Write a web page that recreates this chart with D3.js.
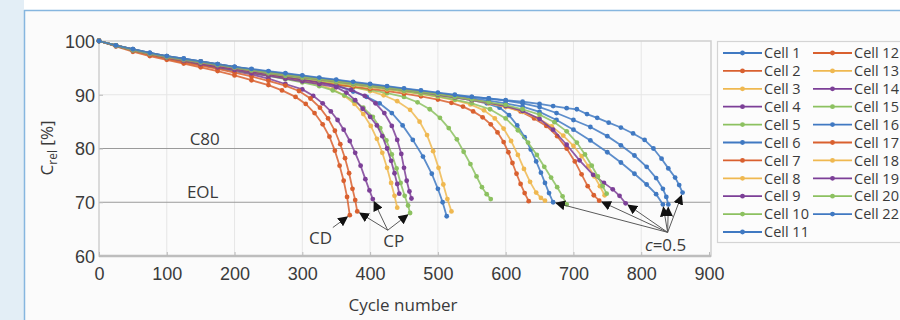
<!DOCTYPE html>
<html>
<head>
<meta charset="utf-8">
<script src="https://cdn.jsdelivr.net/npm/d3@7"></script>
<style>
  body { margin: 0; background: #fbfbfb; }
  svg { display: block; font-family: "Open Sans", "Noto Sans", sans-serif; }
</style>
</head>
<body>
<svg id="chart" width="900" height="320"></svg>
<script>
// capacity fade data: [cycle, C_rel %] per cell
const cell1 = [[0,100],[25,99.2],[50,98.4],[75,97.7],[100,97.1],[125,96.5],[150,95.9],[175,95.4],[200,94.9],[225,94.4],[250,93.9],[275,93.4],[300,92.9],[325,92.4],[350,91.7],[375,90.6],[395,89.6],[414,88.4],[432,86.6],[448,84.3],[463,81.6],[478,78.5],[491,75.3],[500,72.5],[507,70.0],[513,67.4]];
const cell2 = [[0,100],[25,99.0],[50,98.0],[75,97.2],[100,96.5],[125,95.8],[150,95.1],[175,94.4],[200,93.6],[225,92.7],[250,91.8],[270,90.8],[290,89.6],[305,88.3],[318,86.6],[330,84.5],[340,82.2],[348,79.6],[355,76.8],[361,74.0],[366,71.0],[370,67.6]];
const cell3 = [[0,100],[25,99.2],[50,98.4],[75,97.7],[100,97.0],[125,96.4],[150,95.9],[175,95.3],[200,94.8],[225,94.3],[250,93.8],[275,93.2],[300,92.6],[325,91.9],[345,91.0],[362,89.8],[377,88.3],[390,86.4],[401,84.2],[410,81.8],[418,79.2],[425,76.4],[431,73.6],[436,71.2],[440,69.0]];
const cell4 = [[0,100],[25,99.1],[50,98.3],[75,97.5],[100,96.8],[125,96.2],[150,95.6],[175,95.0],[200,94.4],[225,93.8],[250,93.0],[275,92.0],[300,91.0],[316,89.8],[330,88.4],[342,86.9],[352,85.3],[361,83.5],[370,81.4],[378,79.2],[386,76.8],[393,74.3],[399,72.2],[404,70.6]];
const cell5 = [[0,100],[25,99.1],[50,98.2],[75,97.5],[100,96.8],[125,96.2],[150,95.6],[175,95.0],[200,94.5],[225,94.0],[250,93.5],[275,92.9],[300,92.3],[325,91.6],[345,90.8],[362,89.9],[376,88.9],[390,87.6],[404,85.9],[415,83.8],[424,81.5],[432,78.9],[439,76.3],[445,73.6],[451,71.2],[456,69.4],[459,68.0]];
const cell6 = [[0,100],[25,99.2],[50,98.4],[75,97.7],[100,97.1],[125,96.6],[150,96.1],[175,95.6],[200,95.1],[225,94.6],[250,94.1],[275,93.6],[300,93.1],[325,92.7],[350,92.3],[375,91.9],[400,91.5],[425,91.1],[450,90.7],[475,90.3],[500,89.9],[525,89.5],[550,89.0],[572,88.4],[591,87.6],[605,86.2],[617,84.3],[628,82.1],[637,79.8],[645,77.6],[652,75.5],[658,73.6],[664,71.7],[670,70.0]];
const cell7 = [[0,100],[25,99.1],[50,98.2],[75,97.4],[100,96.7],[125,96.0],[150,95.4],[175,94.8],[200,94.1],[225,93.4],[250,92.6],[275,91.7],[295,90.7],[312,89.3],[326,87.6],[338,85.6],[348,83.3],[356,80.8],[363,78.2],[369,75.4],[374,72.5],[378,70.4],[381,68.3]];
const cell8 = [[0,100],[25,99.2],[50,98.4],[75,97.7],[100,97.1],[125,96.5],[150,96.0],[175,95.5],[200,95.0],[225,94.5],[250,94.0],[275,93.5],[300,93.0],[325,92.5],[350,92.0],[375,91.4],[400,90.7],[420,89.9],[440,88.8],[459,87.2],[473,85.0],[484,82.5],[493,79.5],[501,76.4],[508,73.3],[514,70.6],[520,68.3]];
const cell9 = [[0,100],[25,99.1],[50,98.3],[75,97.6],[100,96.9],[125,96.3],[150,95.7],[175,95.1],[200,94.6],[225,94.0],[250,93.5],[275,93.0],[300,92.5],[325,92.0],[350,91.4],[365,90.4],[378,89.0],[389,87.4],[400,85.9],[410,84.3],[418,82.3],[425,80.0],[431,77.7],[436,75.4],[440,73.4],[443,71.6]];
const cell10 = [[0,100],[25,99.1],[50,98.3],[75,97.6],[100,97.0],[125,96.4],[150,95.9],[175,95.4],[200,94.9],[225,94.4],[250,93.9],[275,93.4],[300,92.9],[325,92.4],[350,91.9],[375,91.4],[400,90.9],[425,90.3],[450,89.6],[470,88.6],[488,87.3],[503,85.7],[516,83.8],[528,81.7],[538,79.4],[548,77.1],[557,74.8],[565,72.8],[572,71.5],[578,70.6]];
const cell11 = [[0,100],[25,99.2],[50,98.5],[75,97.8],[100,97.2],[125,96.7],[150,96.2],[175,95.7],[200,95.2],[225,94.7],[250,94.2],[275,93.8],[300,93.4],[325,93.0],[350,92.6],[375,92.2],[400,91.8],[425,91.4],[450,91.0],[475,90.6],[500,90.1],[525,89.7],[550,89.3],[575,88.9],[600,88.4],[625,87.8],[650,86.8],[675,85.3],[700,83.5],[725,81.5],[750,79.3],[770,77.4],[790,75.3],[808,73.3],[822,71.5],[832,69.6]];
const cell12 = [[0,100],[25,99.1],[50,98.3],[75,97.6],[100,97.0],[125,96.4],[150,95.8],[175,95.3],[200,94.8],[225,94.3],[250,93.8],[275,93.3],[300,92.8],[325,92.3],[350,91.9],[375,91.5],[400,91.1],[425,90.7],[450,90.2],[475,89.7],[500,89.1],[520,88.5],[537,87.8],[552,86.9],[566,85.8],[578,84.5],[588,83.0],[597,81.2],[604,79.3],[610,77.3],[616,75.3],[622,73.4],[628,71.7],[634,70.2]];
const cell13 = [[0,100],[25,99.2],[50,98.4],[75,97.7],[100,97.1],[125,96.5],[150,96.0],[175,95.5],[200,95.0],[225,94.5],[250,94.0],[275,93.5],[300,93.0],[325,92.6],[350,92.2],[375,91.8],[400,91.4],[425,91.0],[450,90.6],[475,90.1],[500,89.6],[525,89.0],[548,88.2],[568,87.1],[584,85.6],[597,83.7],[608,81.4],[618,78.8],[627,76.2],[636,73.8],[645,71.8],[652,70.8],[658,70.3]];
const cell14 = [[0,100],[25,99.1],[50,98.3],[75,97.6],[100,97.0],[125,96.4],[150,95.8],[175,95.3],[200,94.8],[225,94.3],[250,93.8],[275,93.3],[300,92.8],[325,92.3],[350,91.7],[372,90.9],[392,89.8],[408,88.4],[421,86.6],[432,84.2],[440,81.6],[446,79.0],[450,76.4],[454,74.0],[458,72.0],[461,70.7]];
const cell15 = [[0,100],[25,99.1],[50,98.3],[75,97.6],[100,97.0],[125,96.5],[150,96.0],[175,95.5],[200,95.0],[225,94.5],[250,94.0],[275,93.5],[300,93.1],[325,92.7],[350,92.3],[375,91.9],[400,91.5],[425,91.1],[450,90.7],[475,90.2],[500,89.7],[525,89.1],[550,88.4],[577,87.3],[600,85.6],[618,83.4],[633,81.1],[646,78.8],[657,76.6],[667,74.6],[676,72.8],[684,71.1],[690,69.6]];
const cell16 = [[0,100],[25,99.2],[50,98.5],[75,97.8],[100,97.2],[125,96.7],[150,96.2],[175,95.7],[200,95.2],[225,94.7],[250,94.3],[275,93.9],[300,93.5],[325,93.1],[350,92.7],[375,92.3],[400,91.9],[425,91.5],[450,91.1],[475,90.7],[500,90.3],[525,89.9],[550,89.6],[575,89.3],[600,88.9],[625,88.4],[650,87.7],[675,86.6],[700,85.3],[725,84.0],[750,82.3],[770,80.6],[790,78.7],[808,76.6],[822,74.5],[832,72.5],[837,71.0],[840,69.6]];
const cell17 = [[0,100],[25,99.2],[50,98.4],[75,97.7],[100,97.1],[125,96.6],[150,96.1],[175,95.6],[200,95.1],[225,94.6],[250,94.1],[275,93.7],[300,93.3],[325,92.9],[350,92.5],[375,92.1],[400,91.7],[425,91.3],[450,90.9],[475,90.5],[500,90.1],[525,89.6],[550,89.1],[575,88.5],[600,87.8],[622,86.9],[642,85.6],[660,84.2],[676,82.3],[690,80.0],[702,77.6],[712,75.2],[721,73.0],[730,71.3],[738,70.3]];
const cell18 = [[0,100],[25,99.2],[50,98.4],[75,97.7],[100,97.1],[125,96.6],[150,96.1],[175,95.6],[200,95.1],[225,94.6],[250,94.1],[275,93.7],[300,93.3],[325,92.9],[350,92.5],[375,92.1],[400,91.7],[425,91.3],[450,90.9],[475,90.5],[500,90.0],[525,89.5],[550,89.0],[575,88.4],[600,87.7],[625,86.8],[648,85.6],[668,84.1],[685,82.4],[700,80.5],[712,78.6],[722,76.7],[731,74.8],[739,73.0],[746,71.3]];
const cell19 = [[0,100],[25,99.2],[50,98.4],[75,97.7],[100,97.1],[125,96.6],[150,96.1],[175,95.6],[200,95.1],[225,94.6],[250,94.1],[275,93.7],[300,93.3],[325,92.9],[350,92.5],[375,92.1],[400,91.7],[425,91.3],[450,90.9],[475,90.5],[500,90.0],[525,89.5],[550,89.0],[575,88.5],[600,87.9],[625,87.0],[650,85.5],[670,83.5],[690,80.7],[709,77.8],[729,75.1],[745,73.6],[758,72.4],[768,71.2],[777,69.8]];
const cell20 = [[0,100],[25,99.2],[50,98.4],[75,97.7],[100,97.1],[125,96.6],[150,96.1],[175,95.6],[200,95.1],[225,94.6],[250,94.1],[275,93.7],[300,93.3],[325,92.9],[350,92.5],[375,92.1],[400,91.7],[425,91.3],[450,90.9],[475,90.5],[500,90.1],[525,89.6],[550,89.1],[575,88.6],[600,88.1],[625,87.3],[650,86.3],[672,84.9],[690,83.2],[705,81.1],[717,78.9],[727,76.8],[736,74.8],[743,73.0],[749,71.6]];
const cell22 = [[0,100],[25,99.2],[50,98.5],[75,97.8],[100,97.2],[125,96.7],[150,96.2],[175,95.7],[200,95.2],[225,94.8],[250,94.4],[275,94.0],[300,93.6],[325,93.2],[350,92.8],[375,92.4],[400,92.0],[425,91.6],[450,91.2],[475,90.8],[500,90.4],[525,90.0],[550,89.6],[575,89.3],[600,89.0],[625,88.7],[650,88.3],[670,87.9],[690,87.5],[705,87.3],[720,86.4],[735,85.7],[752,84.8],[770,83.9],[788,82.8],[805,81.6],[818,80.0],[830,78.1],[840,76.3],[850,74.6],[856,73.2],[861,71.8]];

const cellNames = ["Cell 1","Cell 2","Cell 3","Cell 4","Cell 5","Cell 6","Cell 7","Cell 8","Cell 9","Cell 10","Cell 11",
                   "Cell 12","Cell 13","Cell 14","Cell 15","Cell 16","Cell 17","Cell 18","Cell 19","Cell 20","Cell 22"];
const cellSeries = [cell1,cell2,cell3,cell4,cell5,cell6,cell7,cell8,cell9,cell10,cell11,
                    cell12,cell13,cell14,cell15,cell16,cell17,cell18,cell19,cell20,cell22];

const xTicks = [0,100,200,300,400,500,600,700,800,900];
const yTicks = [60,70,80,90,100];

// annotation groups: label, label anchor [cycle, C], arrow origin [cycle, C], cells pointed at
const notes = [
  { text: "CD", at: [327, 62.3], from: [345, 65.3], cells: ["Cell 2"] },
  { text: "CP", at: [435, 61.6], from: [426, 64.8], cells: ["Cell 7", "Cell 4", "Cell 5"] },
  { text: "=0.5", italic: "c", at: [836, 60.9], from: [839, 64.4], cells: ["Cell 6", "Cell 17", "Cell 19", "Cell 11", "Cell 16", "Cell 22"] }
];
const refLines = [{ text: "C80", value: 80, labelAt: 156 }, { text: "EOL", value: 70, labelAt: 153 }];

// colours repeat in a 5 colour cycle like the source plot
const palette = ["#4079c2", "#d9602f", "#efb850", "#7c3f97", "#8cc160"];
const colorOf = i => palette[i % 5];

let svg = d3.select("#chart");

// page decoration
svg.append("rect").attr("width", 900).attr("height", 320).attr("fill", "#fbfbfb");
svg.append("rect").attr("width", 900).attr("height", 10).attr("fill", "#ffffff");
svg.append("rect").attr("width", 24).attr("height", 320).attr("fill", "#e3eef6");
svg.append("line").attr("x1", 24.5).attr("x2", 24.5).attr("y1", 10).attr("y2", 320).attr("stroke", "#86b6df").attr("stroke-width", 1.5);
svg.append("line").attr("x1", 24).attr("x2", 900).attr("y1", 10.5).attr("y2", 10.5).attr("stroke", "#86b6df").attr("stroke-width", 1.5);

let x = d3.scaleLinear().domain([0, 900]).range([99, 709]);
let y = d3.scaleLinear().domain([60, 100]).range([256, 41]);

// grid
let grid = svg.append("g");
grid.selectAll("line.v").data(xTicks.slice(1, -1)).enter().append("line")
    .attr("x1", d => x(d)).attr("x2", d => x(d)).attr("y1", y(100)).attr("y2", y(60))
    .attr("stroke", "#e6e6e6").attr("stroke-width", 1);
grid.append("line").attr("x1", x(0)).attr("x2", 711).attr("y1", y(90)).attr("y2", y(90))
    .attr("stroke", "#e6e6e6");
grid.selectAll("line.r").data(refLines).enter().append("line")
    .attr("x1", x(0)).attr("x2", 711).attr("y1", d => y(d.value)).attr("y2", d => y(d.value))
    .attr("stroke", "#9a9a9a").attr("stroke-width", 1.2);

// frame
svg.append("rect").attr("x", x(0)).attr("y", y(100)).attr("width", 711 - x(0)).attr("height", y(60) - y(100))
    .attr("fill", "none").attr("stroke", "#cfcfcf").attr("stroke-width", 1.5);
svg.append("line").attr("x1", x(0)).attr("x2", 711).attr("y1", y(60)).attr("y2", y(60))
    .attr("stroke", "#bdbdbd").attr("stroke-width", 2.5);

// axes
let xAxis = svg.append("g").attr("transform", "translate(0," + y(60) + ")")
    .call(d3.axisBottom(x).tickValues(xTicks).tickSize(-4).tickPadding(8));
let yAxis = svg.append("g").attr("transform", "translate(" + x(0) + ",0)")
    .call(d3.axisLeft(y).tickValues(yTicks).tickSize(-4).tickPadding(4));
[xAxis, yAxis].forEach(a => {
    a.select(".domain").remove();
    a.selectAll("line").attr("stroke", "#bbbbbb");
    a.selectAll("text").attr("fill", "#3a3a3a").style("font-size", "18px");
});
xAxis.selectAll("text").attr("dy", "0.9em");
yAxis.selectAll("text").attr("dy", "0.36em");

svg.append("text").attr("x", x(450) - 1).attr("y", 311).attr("text-anchor", "middle")
    .attr("fill", "#3a3a3a").style("font-size", "17px").text("Cycle number");
let ylab = svg.append("text").attr("transform", "translate(53,148) rotate(-90)").attr("text-anchor", "middle")
    .attr("fill", "#3a3a3a").style("font-size", "17px");
ylab.append("tspan").text("C");
ylab.append("tspan").attr("dy", 4).style("font-size", "12px").text("rel");
ylab.append("tspan").attr("dy", -4).text(" [%]");

// reference labels
svg.selectAll("text.ref").data(refLines).enter().append("text")
    .attr("x", d => x(d.labelAt)).attr("y", d => y(d.value) - 4).attr("text-anchor", "middle")
    .attr("fill", "#3a3a3a").style("font-size", "17px").text(d => d.text);

// curves
let line = d3.line().x(d => x(d[0])).y(d => y(d[1]));
let curves = svg.append("g");
cellSeries.forEach((s, i) => {
    let g = curves.append("g");
    g.append("path").attr("d", line(s)).attr("fill", "none")
        .attr("stroke", colorOf(i)).attr("stroke-width", 1.8).attr("stroke-opacity", 0.85);
    g.selectAll("circle").data(s).enter().append("circle")
        .attr("cx", d => x(d[0])).attr("cy", d => y(d[1])).attr("r", 2.4)
        .attr("fill", colorOf(i));
});

// arrows
svg.append("defs").append("marker").attr("id", "arr").attr("viewBox", "0 0 10 10")
    .attr("refX", 9).attr("refY", 5).attr("markerWidth", 10).attr("markerHeight", 10)
    .attr("markerUnits", "userSpaceOnUse").attr("orient", "auto")
    .append("path").attr("d", "M0,0 L10,5 L0,10 Z").attr("fill", "#111");

let ann = svg.append("g");
notes.forEach(n => {
    let sx = x(n.from[0]), sy = y(n.from[1]);
    n.cells.forEach(c => {
        let s = cellSeries[cellNames.indexOf(c)];
        let last = s[s.length - 1];
        let tx = x(last[0]), ty = y(last[1]);
        let len = Math.hypot(tx - sx, ty - sy);
        let k = (len - 3) / len;
        ann.append("line").attr("x1", sx).attr("y1", sy)
            .attr("x2", sx + (tx - sx) * k).attr("y2", sy + (ty - sy) * k)
            .attr("stroke", "#5a5a5a").attr("stroke-width", 1).attr("marker-end", "url(#arr)");
    });
    let t = ann.append("text").attr("x", x(n.at[0])).attr("y", y(n.at[1])).attr("text-anchor", "middle")
        .attr("fill", "#3a3a3a").style("font-size", "17px");
    if (n.italic) t.append("tspan").style("font-style", "italic").text(n.italic);
    t.append("tspan").text(n.text);
});

// legend
let leg = svg.append("g");
leg.append("rect").attr("x", 717.5).attr("y", 41.5).attr("width", 200).attr("height", 201)
    .attr("fill", "#fcfcfc").attr("stroke", "#d4d4d4").attr("stroke-width", 1.2);
cellNames.forEach((name, i) => {
    let col = i < 11 ? 0 : 1;
    let row = i < 11 ? i : i - 11;
    let lx = 723 + col * 90, ly = 53 + row * 17.9;
    leg.append("line").attr("x1", lx).attr("x2", lx + 39).attr("y1", ly).attr("y2", ly)
        .attr("stroke", colorOf(i)).attr("stroke-width", 1.8);
    leg.append("circle").attr("cx", lx + 19.5).attr("cy", ly).attr("r", 2.4).attr("fill", colorOf(i));
    leg.append("text").attr("x", lx + 41).attr("y", ly).attr("dy", "0.36em")
        .attr("fill", "#3a3a3a").style("font-size", "14.5px").text(name);
});
</script>
</body>
</html>
